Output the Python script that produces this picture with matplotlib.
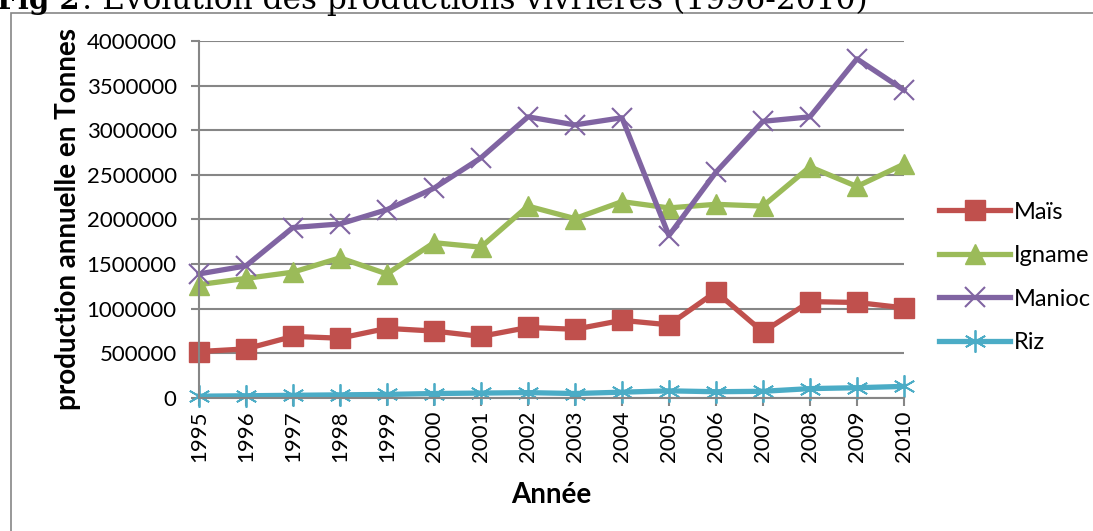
import matplotlib
matplotlib.use("Agg")
import matplotlib.pyplot as plt
from matplotlib.patches import Rectangle

years = [str(y) for y in range(1995, 2011)]
mais = [520000, 550000, 690000, 670000, 780000, 750000, 690000, 790000,
        770000, 870000, 820000, 1190000, 740000, 1080000, 1070000, 1010000]
igname = [1270000, 1340000, 1410000, 1570000, 1390000, 1740000, 1690000, 2150000,
          2010000, 2200000, 2130000, 2170000, 2150000, 2590000, 2370000, 2620000]
manioc = [1390000, 1480000, 1910000, 1950000, 2110000, 2350000, 2690000, 3150000,
          3060000, 3140000, 1820000, 2530000, 3100000, 3150000, 3800000, 3450000]
riz = [20000, 25000, 30000, 35000, 40000, 50000, 55000, 60000,
       50000, 65000, 80000, 70000, 75000, 105000, 115000, 130000]
yticks = [0, 500000, 1000000, 1500000, 2000000, 2500000, 3000000, 3500000, 4000000]

plt.rcParams["font.family"] = ["Lato", "DejaVu Sans"]
grey = "#868686"

fig = plt.figure(figsize=(10.93, 5.31), dpi=100)
ax = fig.add_axes([0.182, 0.2505, 0.645, 0.6723])

x = range(len(years))
ax.plot(x, mais, color="#C0504D", lw=3.8, marker="s", ms=14, label="Maïs", clip_on=False)
ax.plot(x, igname, color="#9BBB59", lw=3.8, marker="^", ms=15, label="Igname", clip_on=False)
ax.plot(x, manioc, color="#8064A2", lw=3.8, marker="x", ms=14, mew=1.5, label="Manioc", clip_on=False)
ax.plot(x, riz, color="#4BACC6", lw=3.8, marker=(6, 2, 0), ms=16, mew=1.3, label="Riz", clip_on=False)

ax.set_xlim(0, len(years) - 1)
ax.set_ylim(0, 4000000)
ax.set_xticks(list(x))
ax.set_xticklabels(years, rotation=90, fontsize=16)
ax.set_yticks(yticks)
ax.set_yticklabels([str(v) for v in yticks], fontsize=16)
ax.yaxis.grid(True, color=grey, lw=1.5)
ax.set_axisbelow(True)
for s in ["top", "right"]:
    ax.spines[s].set_visible(False)
for s in ["left", "bottom"]:
    ax.spines[s].set_color(grey)
    ax.spines[s].set_linewidth(1.5)
ax.tick_params(color=grey, width=1.5, length=6)
ax.tick_params(axis="x", pad=3)
ax.tick_params(axis="y", pad=10)

ax.set_xlabel("Année", fontsize=20, fontweight="bold", labelpad=14)
ax.set_ylabel("production annuelle en Tonnes", fontsize=20, fontweight="bold", labelpad=4)

ax.legend(loc="center left", bbox_to_anchor=(1.02, 0.338), frameon=False, fontsize=17,
          handlelength=3.0, labelspacing=0.95, handletextpad=0.15)

fig.patches.append(Rectangle((0.01, -0.1), 1.2, 1.0755, transform=fig.transFigure,
                             fill=False, edgecolor=grey, lw=1.2))
fig.text(-0.003, 0.983, "Fig 2", fontsize=21, fontweight="bold", family="DejaVu Serif",
         va="baseline")
fig.text(0.066, 0.983, " : Évolution des productions vivrières (1996-2010)", fontsize=22.5,
         family="DejaVu Serif", va="baseline")

fig.savefig("out.png", dpi=100)
